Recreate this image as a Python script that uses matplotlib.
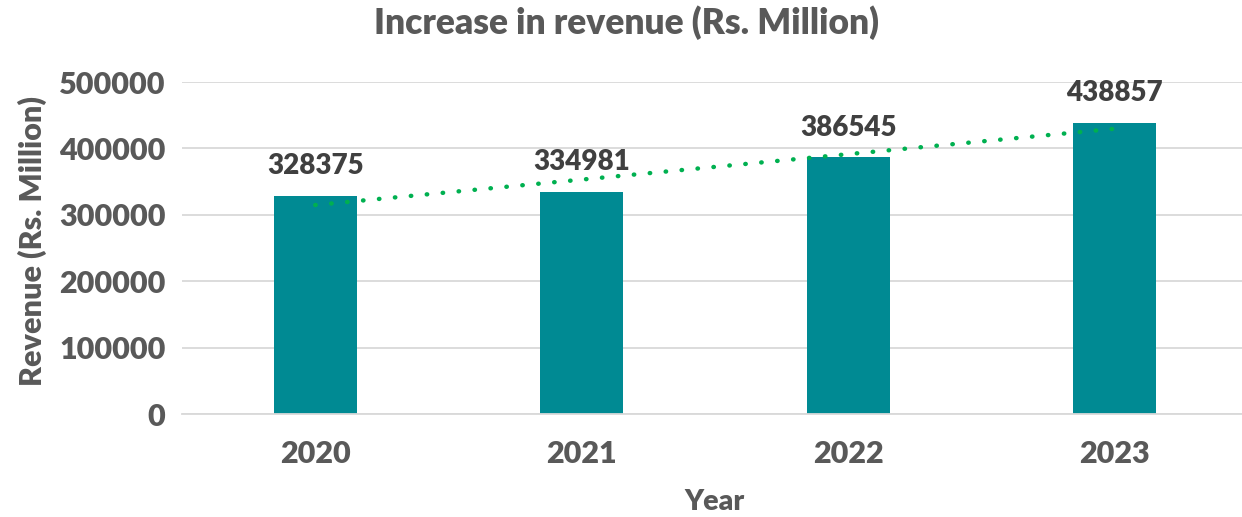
import matplotlib
matplotlib.use("Agg")
import matplotlib.pyplot as plt
import numpy as np

years = ["2020", "2021", "2022", "2023"]
revenue = [328375, 334981, 386545, 438857]
yticks = [0, 100000, 200000, 300000, 400000, 500000]

plt.rcParams['font.family'] = ['Lato', 'DejaVu Sans']
WEIGHT = 800

W, H = 1242, 517
fig = plt.figure(figsize=(W/100, H/100), dpi=100)
left, right, top, bottom = 182, 1242, 82, 414
ax = fig.add_axes([left/W, 1-bottom/H, (right-left)/W, (bottom-top)/H])

x = np.arange(len(years))
ax.bar(x, revenue, width=0.31, color="#008A93", zorder=2)

# linear trendline
coef = np.polyfit(x, revenue, 1)
ax.plot(x, np.polyval(coef, x), color="#00B050", linestyle=(0, (0.1, 3.5)),
        linewidth=3.2, dash_capstyle="round", zorder=3)

for xi, v in zip(x, revenue):
    ax.annotate(f"{v}", (xi, v), xytext=(0, 12), textcoords="offset points",
                ha="center", va="bottom", fontsize=20, fontweight=WEIGHT, color="#404040")

ax.set_ylim(0, 500000)
ax.set_xlim(-0.5, 3.5 - 6/266.7)
ax.set_yticks(yticks)
ax.set_yticklabels([str(t) for t in yticks])
ax.set_xticks(x)
ax.set_xticklabels(years)
ax.grid(axis="y", color="#D9D9D9", linewidth=1.3, zorder=0)
ax.set_axisbelow(True)
for s in ["top", "right", "left"]:
    ax.spines[s].set_visible(False)
ax.spines["bottom"].set_color("#D9D9D9")
ax.spines["bottom"].set_linewidth(1.3)
ax.tick_params(axis="both", length=0, labelsize=22, labelcolor="#595959")
ax.tick_params(axis="y", pad=12)
ax.tick_params(axis="x", pad=19)
for lbl in ax.get_xticklabels() + ax.get_yticklabels():
    lbl.set_fontweight(WEIGHT)

fig.text(626/W, 1-23/H, "Increase in revenue (Rs. Million)", ha="center", va="center",
         fontsize=25.5, fontweight=WEIGHT, color="#595959")
fig.text(32/W, 1-241/H, "Revenue (Rs. Million)", ha="center", va="center", rotation=90,
         fontsize=22, fontweight=WEIGHT, color="#595959")
fig.text(715/W, 1-502/H, "Year", ha="center", va="center",
         fontsize=20.5, fontweight=WEIGHT, color="#595959")

fig.savefig("out.png", dpi=100)
